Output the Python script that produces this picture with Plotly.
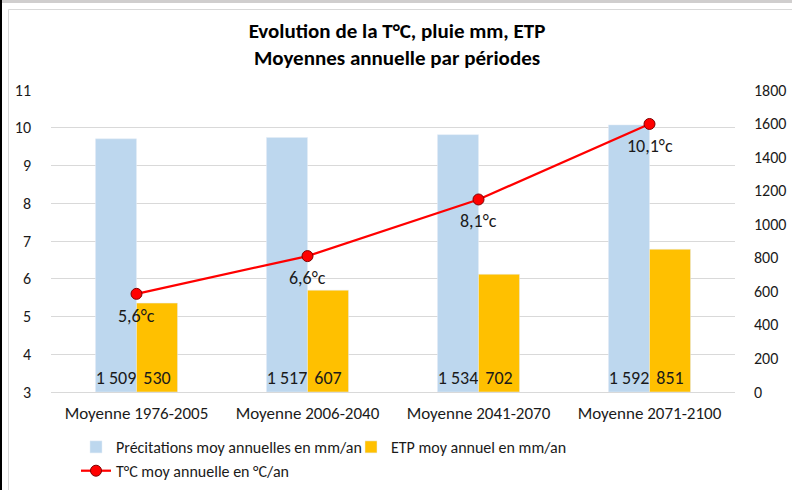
import plotly.graph_objects as go

categories = ["Moyenne 1976-2005", "Moyenne 2006-2040", "Moyenne 2041-2070", "Moyenne 2071-2100"]
precip = [1509, 1517, 1534, 1592]
etp = [530, 607, 702, 851]
temp = [5.6, 6.6, 8.1, 10.1]

left_ticks = list(range(3, 12))
right_ticks = list(range(0, 1801, 200))

FONT = "Calibri, Carlito, Lato, sans-serif"
TXT = "#1A1A1A"

def fmt_int(v):
    return f"{v:,}".replace(",", " ")

fig = go.Figure()
fig.add_trace(go.Bar(
    x=categories, y=precip, name="Précitations moy annuelles en mm/an",
    marker=dict(color="#BDD7EE"), yaxis="y",
    text=[fmt_int(v) for v in precip], textposition="inside",
    insidetextanchor="start", textangle=0, constraintext="none",
    textfont=dict(size=18, color=TXT, family=FONT),
))
fig.add_trace(go.Bar(
    x=categories, y=etp, name="ETP moy annuel en mm/an",
    marker=dict(color="#FFC000"), yaxis="y",
    text=[fmt_int(v) for v in etp], textposition="inside",
    insidetextanchor="start", textangle=0, constraintext="none",
    textfont=dict(size=18, color=TXT, family=FONT),
))
fig.add_trace(go.Scatter(
    x=categories, y=temp, name="T°C moy annuelle en °C/an", yaxis="y2",
    mode="lines+markers",
    line=dict(color="#FF0000", width=2.25),
    marker=dict(color="#FF0000", size=11, line=dict(color="#7F0000", width=1)),
))

temp_labels = [f"{v:.1f}".replace(".", ",") + "°c" for v in temp]
annotations = [
    dict(x=c, y=t, xref="x", yref="y2", text=lab, showarrow=False,
         yanchor="middle", xanchor="center", yshift=-22,
         font=dict(size=18, color=TXT, family=FONT))
    for c, t, lab in zip(categories, temp, temp_labels)
]

W, H = 792, 490
L, R, T, B = 51, 57, 90, 98
pw, ph = W - L - R, H - T - B

def px(x):
    return (x - L) / pw

def py(y):
    return (H - B - y) / ph

shapes = [
    dict(type="rect", xref="paper", yref="paper", x0=px(0), x1=px(W), y0=py(3), y1=py(0),
         fillcolor="#D0CECE", line=dict(width=0), layer="above"),
    dict(type="rect", xref="paper", yref="paper", x0=px(0), x1=px(2), y0=py(H), y1=py(0),
         fillcolor="#000000", line=dict(width=0), layer="above"),
    dict(type="line", xref="paper", yref="paper", x0=px(8.5), x1=px(W), y0=py(9.5), y1=py(9.5),
         line=dict(color="#D9D9D9", width=1), layer="above"),
    dict(type="line", xref="paper", yref="paper", x0=px(8.5), x1=px(8.5), y0=py(9.5), y1=py(H),
         line=dict(color="#D9D9D9", width=1), layer="above"),
]

fig.update_layout(
    width=W, height=H,
    margin=dict(l=L, r=R, t=T, b=B, autoexpand=False),
    paper_bgcolor="white", plot_bgcolor="white",
    font=dict(family=FONT, size=17, color=TXT),
    title=dict(text="<b>Evolution de la T°C, pluie mm, ETP<br>Moyennes annuelle par périodes</b>",
               x=397 / W, xanchor="center", xref="container", y=1 - 38 / H, yanchor="top",
               yref="container", font=dict(size=21, color="#000000", family=FONT)),
    barmode="group", bargap=0.52, bargroupgap=0,
    showlegend=True,
    legend=dict(orientation="h", xref="container", yref="container",
                x=76 / W, xanchor="left", y=1 - 430 / H, yanchor="top",
                font=dict(size=16, color=TXT, family=FONT), entrywidth=230,
                tracegroupgap=0, itemwidth=30),
    xaxis=dict(showgrid=False, showline=True, linecolor="#D9D9D9", linewidth=1,
               ticks="", tickfont=dict(size=17, color=TXT), ticklabelstandoff=6),
    yaxis=dict(range=[0, 1800], tickvals=right_ticks, side="right", showgrid=False,
               zeroline=False, showline=False, ticks="", ticklabelstandoff=18,
               tickfont=dict(size=16, color=TXT)),
    yaxis2=dict(range=[3, 11], tickvals=left_ticks, side="left", overlaying="y",
                showgrid=True, gridcolor="#D9D9D9", gridwidth=1, zeroline=False,
                showline=False, ticks="", ticklabelstandoff=19,
                tickfont=dict(size=16, color=TXT)),
    shapes=shapes,
    annotations=annotations,
)

fig.write_html("out.html", config={"displayModeBar": False},
               post_script="document.body.style.margin='0';")
